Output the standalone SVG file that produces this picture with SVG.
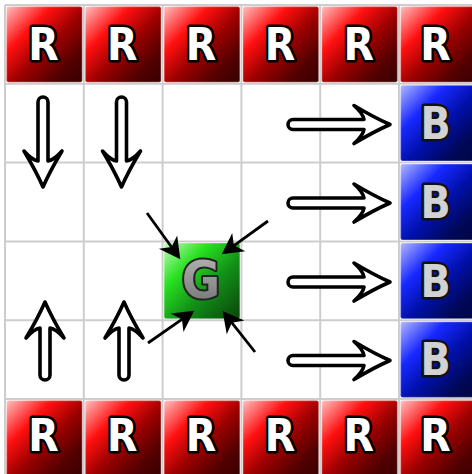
<svg xmlns="http://www.w3.org/2000/svg" xmlns:xlink="http://www.w3.org/1999/xlink" width="472" height="474" viewBox="0 0 472 474">
<defs>
<linearGradient id="gR" x1="0" y1="0" x2="1" y2="1">
<stop offset="0" stop-color="#ffc0c0"/><stop offset="0.3" stop-color="#ff1010"/><stop offset="0.55" stop-color="#9a0000"/><stop offset="0.8" stop-color="#520000"/><stop offset="1" stop-color="#380000"/>
</linearGradient>
<linearGradient id="gB" x1="0" y1="0" x2="1" y2="1">
<stop offset="0" stop-color="#b0b8ff"/><stop offset="0.3" stop-color="#1828ff"/><stop offset="0.55" stop-color="#0010a8"/><stop offset="0.8" stop-color="#000858"/><stop offset="1" stop-color="#000640"/>
</linearGradient>
<linearGradient id="gG" x1="0" y1="0" x2="1" y2="1">
<stop offset="0" stop-color="#c0ffb8"/><stop offset="0.3" stop-color="#28e020"/><stop offset="0.6" stop-color="#129018"/><stop offset="1" stop-color="#0a440a"/>
</linearGradient>
<linearGradient id="gL" x1="0" y1="0" x2="0" y2="1">
<stop offset="0" stop-color="#b8b8b8"/><stop offset="1" stop-color="#707070"/>
</linearGradient>
<path id="a102" d="M-97,-5 L-26,-5 Q-27,-11 -36,-19 Q-16,-7 0,0 Q-16,7 -36,19 Q-27,11 -26,5 L-97,5 A5,5 0 0 1 -97,-5 Z"/>
<path id="a90" d="M-85,-5 L-26,-5 Q-27,-11 -36,-19 Q-16,-7 0,0 Q-16,7 -36,19 Q-27,11 -26,5 L-85,5 A5,5 0 0 1 -85,-5 Z"/>
<path id="a78" d="M-73,-5 L-26,-5 Q-27,-11 -36,-19 Q-16,-7 0,0 Q-16,7 -36,19 Q-27,11 -26,5 L-73,5 A5,5 0 0 1 -73,-5 Z"/>
<marker id="head" markerUnits="userSpaceOnUse" markerWidth="30" markerHeight="30" viewBox="-10 -10 20 20" refX="0" refY="0" orient="auto">
<path d="M8,0 L-6,-7.5 L-2,0 L-6,7.5 Z" fill="#000"/>
</marker>
</defs>
<style>
.grid line{stroke:#cdcdcd;stroke-width:2}
.tile{stroke:#ffffff;stroke-opacity:0.25;stroke-width:1.5}
.r{fill:url(#gR)}
.b{fill:url(#gB)}
.g{fill:url(#gG)}
.lt{font-family:"DejaVu Sans Condensed","DejaVu Sans",sans-serif;font-weight:bold;font-size:44px;text-anchor:middle;paint-order:stroke;stroke-linejoin:round}
.lr{fill:#ffffff;stroke:#000;stroke-width:5}
.lb{fill:#d2d2d2;stroke:#111;stroke-width:5}
.lg{fill:url(#gL);stroke:#222;stroke-width:4;font-size:52px}
.hollow{fill:#fff;stroke:#000;stroke-width:3.6;stroke-linejoin:round}
.diag{stroke:#000;stroke-width:2.8;fill:none;marker-end:url(#head)}
</style>
<rect width="472" height="474" fill="#fff"/>
<g class="grid">
<line x1="5" y1="5" x2="5" y2="474"/><line x1="83.8" y1="5" x2="83.8" y2="474"/><line x1="162.6" y1="5" x2="162.6" y2="474"/><line x1="241.4" y1="5" x2="241.4" y2="474"/><line x1="320.2" y1="5" x2="320.2" y2="474"/><line x1="399" y1="5" x2="399" y2="474"/>
<line x1="5" y1="5" x2="472" y2="5"/><line x1="5" y1="83.8" x2="472" y2="83.8"/><line x1="5" y1="162.6" x2="472" y2="162.6"/><line x1="5" y1="241.4" x2="472" y2="241.4"/><line x1="5" y1="320.2" x2="472" y2="320.2"/><line x1="5" y1="399" x2="472" y2="399"/>
</g>
<g id="r-top-1"><rect class="tile r" x="6.5" y="6.5" width="75.8" height="75.8" rx="2"/><text class="lt lr" x="43.5" y="60">R</text></g>
<g id="r-top-2"><rect class="tile r" x="85.3" y="6.5" width="75.8" height="75.8" rx="2"/><text class="lt lr" x="122.3" y="60">R</text></g>
<g id="r-top-3"><rect class="tile r" x="164.1" y="6.5" width="75.8" height="75.8" rx="2"/><text class="lt lr" x="201.1" y="60">R</text></g>
<g id="r-top-4"><rect class="tile r" x="242.9" y="6.5" width="75.8" height="75.8" rx="2"/><text class="lt lr" x="279.9" y="60">R</text></g>
<g id="r-top-5"><rect class="tile r" x="321.7" y="6.5" width="75.8" height="75.8" rx="2"/><text class="lt lr" x="358.7" y="60">R</text></g>
<g id="r-top-6"><rect class="tile r" x="400.5" y="6.5" width="75.8" height="75.8" rx="2"/><text class="lt lr" x="435.5" y="60">R</text></g>
<g id="r-bot-1"><rect class="tile r" x="6.5" y="400.5" width="75.8" height="75.8" rx="2"/><text class="lt lr" x="43.5" y="451">R</text></g>
<g id="r-bot-2"><rect class="tile r" x="85.3" y="400.5" width="75.8" height="75.8" rx="2"/><text class="lt lr" x="122.3" y="451">R</text></g>
<g id="r-bot-3"><rect class="tile r" x="164.1" y="400.5" width="75.8" height="75.8" rx="2"/><text class="lt lr" x="201.1" y="451">R</text></g>
<g id="r-bot-4"><rect class="tile r" x="242.9" y="400.5" width="75.8" height="75.8" rx="2"/><text class="lt lr" x="279.9" y="451">R</text></g>
<g id="r-bot-5"><rect class="tile r" x="321.7" y="400.5" width="75.8" height="75.8" rx="2"/><text class="lt lr" x="358.7" y="451">R</text></g>
<g id="r-bot-6"><rect class="tile r" x="400.5" y="400.5" width="75.8" height="75.8" rx="2"/><text class="lt lr" x="435.5" y="451">R</text></g>
<g id="b-1"><rect class="tile b" x="400.5" y="85.3" width="75.8" height="75.8" rx="2"/><text class="lt lb" x="435.5" y="139">B</text></g>
<g id="b-2"><rect class="tile b" x="400.5" y="164.1" width="75.8" height="75.8" rx="2"/><text class="lt lb" x="435.5" y="218">B</text></g>
<g id="b-3"><rect class="tile b" x="400.5" y="242.9" width="75.8" height="75.8" rx="2"/><text class="lt lb" x="435.5" y="297">B</text></g>
<g id="b-4"><rect class="tile b" x="400.5" y="321.7" width="75.8" height="75.8" rx="2"/><text class="lt lb" x="435.5" y="375">B</text></g>
<g id="goal"><rect class="tile g" x="164.1" y="242.9" width="75.8" height="75.8" rx="2"/><text class="lt lg" x="201" y="298">G</text></g>
<g id="connectors">
<use xlink:href="#a102" class="hollow" transform="translate(390,124.5)"/>
<use xlink:href="#a102" class="hollow" transform="translate(390,203)"/>
<use xlink:href="#a102" class="hollow" transform="translate(390,282)"/>
<use xlink:href="#a102" class="hollow" transform="translate(390,360.5)"/>
<use xlink:href="#a90" class="hollow" transform="translate(43,187) rotate(90)"/>
<use xlink:href="#a90" class="hollow" transform="translate(121.5,187) rotate(90)"/>
<use xlink:href="#a78" class="hollow" transform="translate(45,302) rotate(-90)"/>
<use xlink:href="#a78" class="hollow" transform="translate(124,302) rotate(-90)"/>
<line class="diag" x1="147" y1="213" x2="173.3" y2="249.5"/>
<line class="diag" x1="268" y1="221" x2="231.5" y2="247.3"/>
<line class="diag" x1="148" y1="343" x2="184.4" y2="317.6"/>
<line class="diag" x1="255" y1="352" x2="230" y2="320.3"/>
</g>
</svg>
